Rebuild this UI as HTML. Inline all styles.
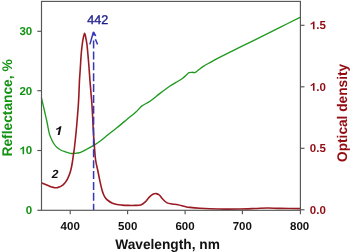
<!DOCTYPE html>
<html><head><meta charset="utf-8"><style>
html,body{margin:0;padding:0;background:#fff;}
svg{display:block;will-change:transform;}
text{font-family:"Liberation Sans",sans-serif;text-rendering:geometricPrecision;}
</style></head><body>
<svg width="350" height="252" viewBox="0 0 350 252">
<rect x="0" y="0" width="350" height="252" fill="#fff"/>
<!-- curves -->
<path d="M41.40,97.60 C41.92,99.83 43.57,106.93 44.50,111.00 C45.43,115.07 46.18,118.18 47.00,122.00 C47.82,125.82 48.52,130.73 49.40,133.90 C50.28,137.07 51.22,138.92 52.30,141.00 C53.38,143.08 54.50,144.90 55.90,146.40 C57.30,147.90 59.12,149.10 60.70,150.00 C62.28,150.90 63.80,151.25 65.40,151.80 C67.00,152.35 68.72,153.03 70.30,153.30 C71.88,153.57 73.18,153.57 74.90,153.40 C76.62,153.23 78.52,153.05 80.60,152.30 C82.68,151.55 85.12,150.10 87.40,148.90 C89.68,147.70 92.20,146.37 94.30,145.10 C96.40,143.83 97.72,143.02 100.00,141.30 C102.28,139.58 105.20,137.05 108.00,134.80 C110.80,132.55 113.80,130.23 116.80,127.80 C119.80,125.37 122.72,122.93 126.00,120.20 C129.28,117.47 133.83,113.78 136.50,111.40 C139.17,109.02 139.75,107.58 142.00,105.90 C144.25,104.22 147.00,103.38 150.00,101.30 C153.00,99.22 156.67,95.95 160.00,93.40 C163.33,90.85 167.33,87.83 170.00,86.00 C172.67,84.17 173.88,83.68 176.00,82.40 C178.12,81.12 181.03,79.50 182.70,78.30 C184.37,77.10 184.95,76.13 186.00,75.20 C187.05,74.27 188.00,73.18 189.00,72.70 C190.00,72.22 191.00,72.33 192.00,72.30 C193.00,72.27 193.83,72.97 195.00,72.50 C196.17,72.03 197.62,70.52 199.00,69.50 C200.38,68.48 201.47,67.55 203.30,66.40 C205.13,65.25 207.22,64.13 210.00,62.60 C212.78,61.07 215.00,59.77 220.00,57.20 C225.00,54.63 233.17,50.58 240.00,47.20 C246.83,43.82 254.33,40.20 261.00,36.90 C267.67,33.60 273.50,30.67 280.00,27.40 C286.50,24.13 296.67,18.98 300.00,17.30" fill="none" stroke="#1f9a1f" stroke-width="1.35" stroke-linejoin="round"/>
<path d="M41.40,182.80 C42.00,183.03 43.72,183.68 45.00,184.20 C46.28,184.72 47.93,185.42 49.10,185.90 C50.27,186.38 51.08,186.80 52.00,187.10 C52.92,187.40 53.77,187.60 54.60,187.70 C55.43,187.80 56.23,187.80 57.00,187.70 C57.77,187.60 58.45,187.40 59.20,187.10 C59.95,186.80 60.73,186.40 61.50,185.90 C62.27,185.40 63.10,184.77 63.80,184.10 C64.50,183.43 65.10,182.73 65.70,181.90 C66.30,181.07 66.73,180.45 67.40,179.10 C68.07,177.75 69.05,175.65 69.70,173.80 C70.35,171.95 70.85,169.97 71.30,168.00 C71.75,166.03 72.05,164.17 72.40,162.00 C72.75,159.83 73.07,157.33 73.40,155.00 C73.73,152.67 73.93,152.00 74.40,148.00 C74.87,144.00 75.70,136.17 76.20,131.00 C76.70,125.83 77.03,121.50 77.40,117.00 C77.77,112.50 78.13,108.17 78.40,104.00 C78.67,99.83 78.82,96.00 79.00,92.00 C79.18,88.00 79.30,83.67 79.50,80.00 C79.70,76.33 79.98,73.33 80.20,70.00 C80.42,66.67 80.60,63.00 80.80,60.00 C81.00,57.00 81.15,54.67 81.40,52.00 C81.65,49.33 82.00,46.28 82.30,44.00 C82.60,41.72 82.82,40.08 83.20,38.30 C83.58,36.52 84.15,33.30 84.60,33.30 C85.05,33.30 85.52,36.52 85.90,38.30 C86.28,40.08 86.60,41.72 86.90,44.00 C87.20,46.28 87.45,49.33 87.70,52.00 C87.95,54.67 88.15,57.00 88.40,60.00 C88.65,63.00 88.95,66.67 89.20,70.00 C89.45,73.33 89.62,76.33 89.90,80.00 C90.18,83.67 90.57,88.00 90.90,92.00 C91.23,96.00 91.60,99.67 91.90,104.00 C92.20,108.33 92.47,113.50 92.70,118.00 C92.93,122.50 93.03,126.50 93.30,131.00 C93.57,135.50 93.92,140.17 94.30,145.00 C94.68,149.83 95.03,155.83 95.60,160.00 C96.17,164.17 97.02,166.67 97.70,170.00 C98.38,173.33 98.98,176.67 99.70,180.00 C100.42,183.33 101.32,187.50 102.00,190.00 C102.68,192.50 103.22,193.67 103.80,195.00 C104.38,196.33 104.90,197.17 105.50,198.00 C106.10,198.83 106.33,199.17 107.40,200.00 C108.47,200.83 110.32,202.25 111.90,203.00 C113.48,203.75 115.22,204.15 116.90,204.50 C118.58,204.85 120.15,204.95 122.00,205.10 C123.85,205.25 125.83,205.35 128.00,205.40 C130.17,205.45 132.88,205.47 135.00,205.40 C137.12,205.33 139.03,205.55 140.70,205.00 C142.37,204.45 143.57,203.42 145.00,202.10 C146.43,200.78 147.98,198.40 149.30,197.10 C150.62,195.80 151.77,194.88 152.90,194.30 C154.03,193.72 155.03,193.48 156.10,193.60 C157.17,193.72 158.17,194.05 159.30,195.00 C160.43,195.95 161.60,197.98 162.90,199.30 C164.20,200.62 165.57,202.12 167.10,202.90 C168.63,203.68 170.30,203.70 172.10,204.00 C173.90,204.30 175.75,204.28 177.90,204.70 C180.05,205.12 182.98,206.05 185.00,206.50 C187.02,206.95 187.50,207.10 190.00,207.40 C192.50,207.70 196.67,208.07 200.00,208.30 C203.33,208.53 205.83,208.67 210.00,208.80 C214.17,208.93 220.00,209.07 225.00,209.10 C230.00,209.13 235.00,209.10 240.00,209.00 C245.00,208.90 250.33,208.67 255.00,208.50 C259.67,208.33 263.83,208.02 268.00,208.00 C272.17,207.98 274.67,208.30 280.00,208.40 C285.33,208.50 296.67,208.57 300.00,208.60" fill="none" stroke="#9a1a22" stroke-width="1.6" stroke-linejoin="round"/>
<!-- dashed line -->
<line x1="93.6" y1="40.5" x2="93.6" y2="210" stroke="#3636b8" stroke-width="1.5" stroke-dasharray="8 2.88"/>
<g stroke="#3636b8" stroke-width="1.5" fill="none" stroke-linecap="butt">
<line x1="89.9" y1="44.4" x2="93.4" y2="32"/>
<line x1="93.6" y1="32" x2="95.7" y2="36"/>
<line x1="95.4" y1="39.3" x2="97.6" y2="44.4"/>
</g>
<polygon points="93.5,31 92.2,35.6 95.6,35.6" fill="#3636b8"/>
<!-- frame -->
<rect x="41.5" y="1.4" width="258.9" height="208.9" fill="none" stroke="#555" stroke-width="1.15"/>
<g stroke="#555" stroke-width="1.15">
<line x1="37.3" y1="31.3" x2="41.5" y2="31.3"/>
<line x1="37.3" y1="90.7" x2="41.5" y2="90.7"/>
<line x1="37.3" y1="150.5" x2="41.5" y2="150.5"/>
<line x1="37.3" y1="210.3" x2="41.5" y2="210.3"/>
<line x1="300.4" y1="25.3" x2="304.5" y2="25.3"/>
<line x1="300.4" y1="86.8" x2="304.5" y2="86.8"/>
<line x1="300.4" y1="148.3" x2="304.5" y2="148.3"/>
<line x1="300.4" y1="209.8" x2="304.5" y2="209.8"/>
<line x1="70.2" y1="210.3" x2="70.2" y2="214.3"/>
<line x1="127.6" y1="210.3" x2="127.6" y2="214.3"/>
<line x1="185.1" y1="210.3" x2="185.1" y2="214.3"/>
<line x1="242.4" y1="210.3" x2="242.4" y2="214.3"/>
<line x1="300.4" y1="210.3" x2="300.4" y2="214.3"/>
</g>
<!-- left ticks labels -->
<g font-size="11.5" font-weight="bold" fill="#149214" text-anchor="end">
<text x="32.2" y="34.8">30</text>
<text x="32.2" y="94.5">20</text>
<text x="32.2" y="154.3">0</text>
<path transform="translate(19.41,154.30) scale(0.00562,-0.00562)" d="M560,0 L840,0 L840,1409 L612,1409 C560,1300 420,1150 150,1050 L150,820 C300,870 450,950 560,1040 Z" fill="#149214"/>
<text x="32.2" y="214">0</text>
</g>
<g font-size="11.5" font-weight="bold" fill="#930c13" text-anchor="start">
<text x="316.19" y="29.3">.5</text>
<path transform="translate(309.80,29.30) scale(0.00562,-0.00562)" d="M560,0 L840,0 L840,1409 L612,1409 C560,1300 420,1150 150,1050 L150,820 C300,870 450,950 560,1040 Z" fill="#930c13"/>
<text x="316.19" y="90.8">.0</text>
<path transform="translate(309.80,90.80) scale(0.00562,-0.00562)" d="M560,0 L840,0 L840,1409 L612,1409 C560,1300 420,1150 150,1050 L150,820 C300,870 450,950 560,1040 Z" fill="#930c13"/>
<text x="309.8" y="152.3">0.5</text>
<text x="309.8" y="213.8">0.0</text>
</g>
<g font-size="11.5" font-weight="bold" fill="#111" text-anchor="middle">
<text x="70.2" y="230.4">400</text>
<text x="127.7" y="230.4">500</text>
<text x="185" y="230.4">600</text>
<text x="242.3" y="230.4">700</text>
<text x="299.6" y="230.4">800</text>
</g>
<text transform="translate(115.2,249) scale(0.98,1)" font-size="14" font-weight="bold" fill="#111">Wavelength, nm</text>
<text transform="translate(11.7,156.5) rotate(-90) scale(0.983,1)" font-size="14" font-weight="bold" fill="#149214">Reflectance, %</text>
<text transform="translate(347,162) rotate(-90) scale(0.978,1)" font-size="14" font-weight="bold" fill="#930c13">Optical density</text>
<text x="87.3" y="24" font-size="12.6" fill="#1e1e8c" stroke="#1e1e8c" stroke-width="0.35">442</text>
<path transform="translate(54.40,134.90) scale(0.00615,-0.00615) skewX(12)" d="M530,0 L850,0 L850,1409 L600,1409 C540,1290 400,1150 110,1040 L110,780 C290,840 420,910 530,990 Z" fill="#111"/>
<text x="51.8" y="177.8" font-size="12" font-weight="bold" font-style="italic" fill="#111">2</text>
</svg>
</body></html>
